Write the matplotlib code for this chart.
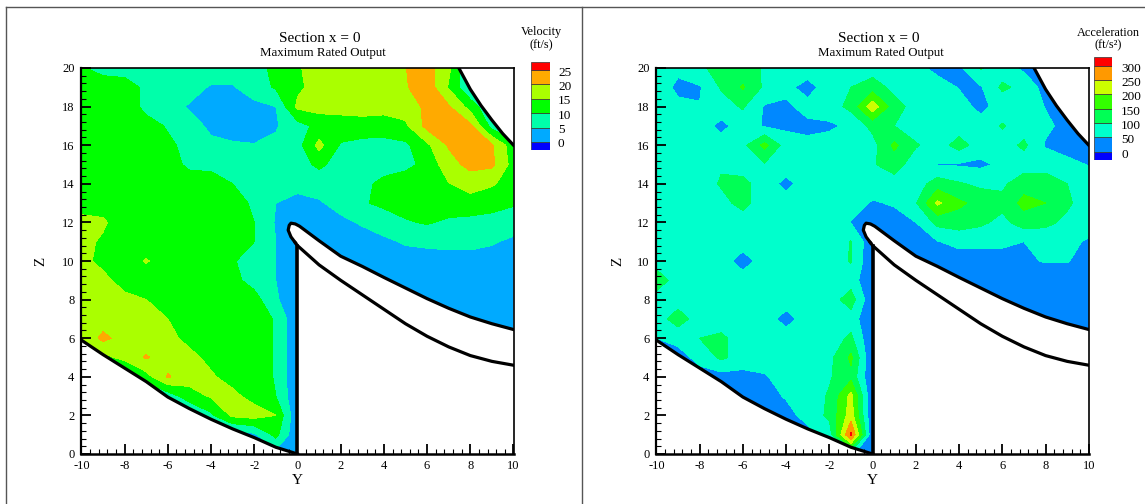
import numpy as np
import matplotlib
matplotlib.use('Agg')
import matplotlib.pyplot as plt
from matplotlib.lines import Line2D
from matplotlib.patches import Polygon

plt.rcParams['font.family'] = ['Liberation Serif', 'DejaVu Serif']
plt.rcParams['axes.unicode_minus'] = False

W, H = 1145, 504

# grid of the section, rows run from z=20 down to z=0
y_nodes = np.arange(-10, 11)
z_nodes = np.arange(20, -1, -1)

velocity = [
    [10.5, 8, 8, 8, 8, 8, 8, 8, 8.5, 11, 14.5, 17, 18, 18, 18, 19.9, 22, 16, 5, 5, 5],
    [12, 13, 12, 9, 8, 7, 4.5, 4.5, 8, 10.5, 14, 17, 17, 17, 18, 19.5, 23, 14.5, 5, 5, 5],
    [12, 13, 13, 8.5, 7, 4.5, 3, 3, 3.5, 5, 16, 17, 16.5, 16.5, 16.5, 17.5, 21, 20.5, 13, 5, 5],
    [14, 14, 13.5, 12, 9.5, 7, 4, 3, 3, 4.5, 8, 11.5, 13, 13.5, 13, 14, 21.5, 22, 21, 8, 5],
    [14, 14, 14, 13, 11, 8.5, 6, 5.5, 5.2, 6, 8, 16.5, 9.5, 8, 8, 9, 14, 20.5, 22, 20.5, 12],
    [14, 14, 14, 14, 13, 8.5, 8, 7.5, 7.5, 7.5, 8, 11, 8, 7.5, 7.5, 8.5, 11.5, 18, 21.5, 21, 13],
    [13.5, 13.5, 13.5, 13.5, 13.5, 13.5, 13.5, 10, 7.5, 7.5, 7, 7, 7, 8.5, 11.5, 13, 14, 14.8, 17, 15.5, 13],
    [13.5, 13.5, 13.5, 13.5, 13.5, 13.5, 13.5, 12.5, 9, 5, 3, 4.5, 6.5, 9.5, 11, 12, 13, 13, 13, 12, 10.5],
    [16, 15.5, 13, 13, 13, 13, 13, 12, 10, 4.5, 1, 3, 4, 5.5, 7.5, 9.5, 10.5, 9, 8.5, 8, 7.5],
    [16, 14.5, 13, 13, 13, 13, 13, 12, 10, 5, 2, 2, 2, 3, 4, 5.5, 6, 6.5, 6.5, 5.5, 4],
    [16, 14, 13, 15.3, 13, 13, 13, 10.5, 7.5, 5, 2, 3, 3, 3, 3, 3, 3, 3, 3, 3, 3],
    [17, 16, 13.5, 13, 13, 13, 13, 11.5, 8, 5, 2, 3, 3, 3, 3, 3, 3, 3, 3, 3, 3],
    [17, 17, 16, 15, 13.5, 13, 13, 13, 12, 5.5, 2, 3, 3, 3, 3, 3, 3, 3, 3, 3, 3],
    [17, 17, 17, 16.5, 15, 13.5, 13, 13, 12.5, 9.5, 0.5, 3, 3, 3, 3, 3, 3, 3, 3, 3, 3],
    [15, 21.5, 17.5, 17, 16, 14, 13, 13, 12.5, 9.5, 0.5, 3, 3, 3, 3, 3, 3, 3, 3, 3, 3],
    [10, 13, 17, 20.5, 17.5, 16, 14, 13, 12.5, 9.5, 0.5, 3, 3, 3, 3, 3, 3, 3, 3, 3, 3],
    [3, 3, 4, 13, 20.5, 17, 15.5, 13.5, 13, 9.5, 0.5, 3, 3, 3, 3, 3, 3, 3, 3, 3, 3],
    [2, 2, 2, 3, 7, 13, 15.5, 16, 13.5, 10, 0.5, 3, 3, 3, 3, 3, 3, 3, 3, 3, 3],
    [2, 2, 2, 2, 2, 3, 9, 16, 17, 15, 0.5, 3, 3, 3, 3, 3, 3, 3, 3, 3, 3],
    [2, 2, 2, 2, 2, 2, 2, 2, 4, 11.5, 0.5, 3, 3, 3, 3, 3, 3, 3, 3, 3, 3],
    [2, 2, 2, 2, 2, 2, 2, 2, 2, 3, 0.5, 3, 3, 3, 3, 3, 3, 3, 3, 3, 3],
]

acceleration = [
    [75, 60, 95, 110, 120, 95, 75, 75, 75, 75, 75, 75, 60, 40, 40, 105, 70, 40, 30, 30, 30],
    [75, 40, 45, 105, 155, 90, 62, 32, 75, 100, 125, 85, 75, 65, 48, 45, 110, 85, 30, 30, 30],
    [75, 60, 52, 80, 105, 45, 42, 65, 75, 115, 230, 120, 80, 75, 65, 40, 65, 75, 48, 30, 30],
    [75, 75, 75, 35, 75, 45, 40, 40, 42, 60, 115, 100, 75, 75, 75, 65, 105, 75, 60, 35, 30],
    [75, 75, 75, 75, 85, 165, 75, 60, 70, 75, 80, 160, 105, 75, 120, 75, 75, 110, 45, 35, 30],
    [75, 75, 75, 95, 75, 95, 75, 75, 75, 75, 95, 125, 70, 48, 45, 40, 60, 75, 80, 60, 48],
    [75, 75, 75, 105, 115, 75, 35, 75, 75, 75, 75, 75, 75, 125, 105, 90, 90, 130, 125, 100, 75],
    [75, 75, 75, 85, 115, 75, 75, 75, 75, 70, 45, 55, 95, 210, 160, 130, 115, 165, 150, 110, 70],
    [75, 75, 75, 75, 75, 75, 75, 75, 75, 48, 10, 30, 50, 115, 125, 110, 85, 125, 115, 85, 70],
    [75, 75, 75, 75, 75, 75, 75, 75, 75, 102, 10, 20, 30, 48, 62, 62, 60, 50, 60, 60, 45],
    [75, 75, 75, 75, 25, 75, 75, 75, 75, 103, 5, 30, 30, 30, 30, 30, 30, 45, 52, 52, 35],
    [130, 75, 75, 75, 75, 75, 75, 75, 75, 75, 5, 30, 30, 30, 30, 30, 30, 30, 30, 30, 30],
    [75, 75, 75, 75, 75, 75, 75, 75, 75, 125, 5, 30, 30, 30, 30, 30, 30, 30, 30, 30, 30],
    [75, 125, 75, 75, 75, 75, 30, 75, 75, 75, 5, 30, 30, 30, 30, 30, 30, 30, 30, 30, 30],
    [50, 65, 100, 110, 75, 75, 75, 75, 75, 110, 0, 30, 30, 30, 30, 30, 30, 30, 30, 30, 30],
    [30, 30, 65, 110, 75, 75, 75, 75, 85, 160, 0, 30, 30, 30, 30, 30, 30, 30, 30, 30, 30],
    [30, 30, 30, 30, 35, 45, 70, 75, 95, 135, 0, 30, 30, 30, 30, 30, 30, 30, 30, 30, 30],
    [30, 30, 30, 30, 30, 30, 55, 75, 105, 215, 0, 30, 30, 30, 30, 30, 30, 30, 30, 30, 30],
    [30, 30, 30, 30, 30, 30, 30, 70, 110, 225, 0, 30, 30, 30, 30, 30, 30, 30, 30, 30, 30],
    [30, 30, 30, 30, 30, 30, 30, 30, 75, 310, 0, 30, 30, 30, 30, 30, 30, 30, 30, 30, 30],
    [30, 30, 30, 30, 30, 30, 30, 30, 30, 60, 0, 30, 30, 30, 30, 30, 30, 30, 30, 30, 30],
]

# walls
wedge_y = [-10, -9, -8, -7, -6, -5, -4, -3, -2, -1, 0]
wedge_z = [5.9, 5.15, 4.45, 3.75, 2.95, 2.35, 1.8, 1.3, 0.85, 0.35, 0]
upper_y = [-0.1, -0.3, -0.43, -0.38, -0.3, -0.1, 0.1, 1, 2, 3, 4, 5, 6, 7, 8, 9, 10]
upper_z = [10.95, 11.25, 11.6, 11.85, 11.96, 11.92, 11.8, 11.05, 10.25, 9.72, 9.15, 8.6, 8.05, 7.55, 7.1, 6.75, 6.45]
lower_y = [-0.1, 0, 1, 2, 3, 4, 5, 6, 7, 8, 9, 10]
lower_z = [10.95, 10.8, 9.8, 9.0, 8.25, 7.5, 6.75, 6.1, 5.55, 5.1, 4.8, 4.6]
roof_y = [7.47, 8, 8.5, 9, 9.5, 10]
roof_z = [20, 18.9, 18.05, 17.3, 16.6, 16]

vel_levels = [0, 5, 10, 15, 20, 25]
vel_colors = ['#0000ff', '#00aaff', '#00ffaa', '#00ff00', '#aaff00', '#ffaa00', '#ff0000']
acc_levels = [0, 50, 100, 150, 200, 250, 300]
acc_colors = ['#0000ff', '#0088ff', '#00ffcc', '#00ff55', '#33ff00', '#ccff00', '#ff9900', '#ff0000']


def px_rect(x0, x1, y0, y1):
    return [x0 / W, 1 - y1 / H, (x1 - x0) / W, (y1 - y0) / H]


def section(box, values, levels, colors):
    ax = fig.add_axes(px_rect(*box))
    cs = ax.contourf(y_nodes, z_nodes, np.array(values, dtype=float), levels=levels,
                     colors=colors, extend='both')
    # fluid region only, everything else in the section is solid
    outline = list(zip([-10] + roof_y + upper_y[::-1] + [0, 0] + wedge_y[::-1],
                       [20] + roof_z + upper_z[::-1] + [10.8, 0] + wedge_z[::-1]))
    cs.set_clip_path(Polygon(outline, closed=True, transform=ax.transData))

    ax.plot(wedge_y, wedge_z, color='k', lw=2.3)
    ax.plot(upper_y, upper_z, color='k', lw=2.3)
    ax.plot(lower_y, lower_z, color='k', lw=2.3)
    ax.plot(roof_y, roof_z, color='k', lw=2.3)
    ax.plot([0, 0], [0, 10.8], color='k', lw=2.6)

    ax.set_xlim(-10, 10)
    ax.set_ylim(0, 20)
    ax.set_xticks(np.arange(-10, 11, 2))
    ax.set_yticks(np.arange(0, 21, 2))
    ax.set_xticks(np.arange(-10, 10.1, 0.4), minor=True)
    ax.set_yticks(np.arange(0, 20.1, 0.4), minor=True)
    ax.tick_params(which='major', direction='in', length=7.2, width=1.3, labelsize=9)
    ax.tick_params(axis='x', which='major', pad=4)
    ax.tick_params(axis='y', which='major', pad=5)
    ax.tick_params(which='minor', direction='in', length=3.6, width=0.8)
    for side in ax.spines:
        ax.spines[side].set_linewidth(1.2)
    ax.spines['left'].set_linewidth(1.6)
    ax.spines['bottom'].set_linewidth(1.8)
    return ax


def legend(box, levels, colors, low, high, label_x, nudge):
    ax = fig.add_axes(px_rect(*box))
    edges = [low] + levels + [high]
    for i, c in enumerate(colors):
        ax.bar(0, edges[i + 1] - edges[i], bottom=edges[i], width=1, color=c,
               edgecolor='#333333', linewidth=0.5)
    ax.set_xlim(-0.5, 0.5)
    ax.set_ylim(low, high)
    ax.axis('off')
    for lv in levels:
        ax.annotate(str(lv), xy=(0.5, lv), xycoords='data', annotation_clip=False,
                    xytext=(label_x, -nudge), textcoords='offset pixels',
                    ha='left', va='center', fontsize=9.5)


def put(x, y, s, size, **kw):
    fig.text(x / W, 1 - y / H, s, fontsize=size, ha='center', va='center', **kw)


fig = plt.figure(figsize=(W / 100, H / 100), dpi=100)

# scanned page frame
for xs, ys in [((6, 6), (7, 504)), ((6, 1145), (7, 7)), ((582, 582), (7, 504))]:
    fig.add_artist(Line2D([x / W for x in xs], [1 - y / H for y in ys], color='#555555', lw=1))

section((81.4, 513.5, 68, 454), velocity, vel_levels, vel_colors)
section((656.4, 1088.8, 68, 454), acceleration, acc_levels, acc_colors)

legend((531, 550, 62, 150), vel_levels, vel_colors, -2.8, 27.8, 8, 2.5)
legend((1093.5, 1112, 57, 160), acc_levels, acc_colors, -29, 330, 9, 3)

put(320, 39, 'Section x = 0', 11)
put(323, 53, 'Maximum Rated Output', 9.3)
put(879, 39, 'Section x = 0', 11)
put(881, 53, 'Maximum Rated Output', 9.3)

put(541, 32, 'Velocity', 8.8)
put(541, 45, '(ft/s)', 8.8)
put(1108, 33, 'Acceleration', 8.8)
put(1108, 45, '(ft/s²)', 8.8)

put(297, 480, 'Y', 11)
put(872, 480, 'Y', 11)
put(41, 261, 'Z', 11, rotation=90)
put(618, 261, 'Z', 11, rotation=90)

fig.savefig('out.png', dpi=100)
